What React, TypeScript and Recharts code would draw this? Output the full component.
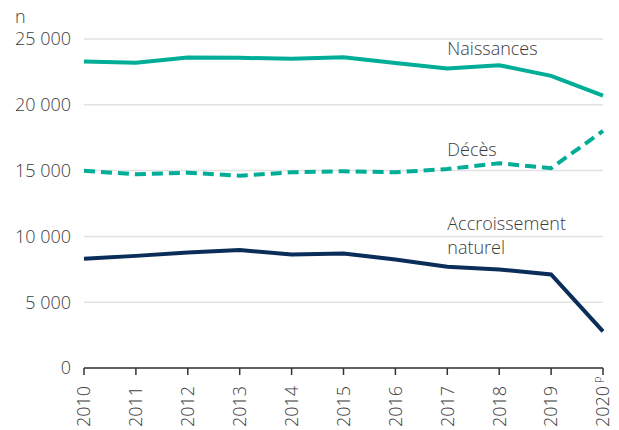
import React from 'react';
import { LineChart, Line, XAxis, YAxis, CartesianGrid, ReferenceDot } from 'recharts';

const years = ['2010', '2011', '2012', '2013', '2014', '2015', '2016', '2017', '2018', '2019', '2020'];
const naissances = [23290, 23190, 23590, 23570, 23490, 23620, 23170, 22760, 23010, 22200, 20700];
const deces = [14990, 14720, 14840, 14610, 14870, 14950, 14870, 15120, 15560, 15180, 18010];
const accroissement = [8300, 8520, 8780, 8960, 8630, 8700, 8250, 7690, 7490, 7110, 2790];
const yTicks = [0, 5000, 10000, 15000, 20000, 25000];
const provisionalYears = ['2020'];
const unitLabel = 'n';

const annotations = [
  { text: 'Naissances', year: '2017', value: 24250 },
  { text: 'Décès', year: '2017', value: 16620 },
  { text: 'Accroissement', year: '2017', value: 10990 },
  { text: 'naturel', year: '2017', value: 9130 },
];

const data = years.map((y, i) => ({
  year: y,
  naissances: naissances[i],
  deces: deces[i],
  accroissement: accroissement[i],
}));

const FONT = '"Open Sans", sans-serif';
const TEXT = '#3c3c3c';
const TEAL = '#00ad96';
const NAVY = '#0a2d5a';

const fmt = (v: number) => String(v).replace(/\B(?=(\d{3})+(?!\d))/g, ' ');

const XTick = (props: any) => {
  const { x, y, payload } = props;
  const label = payload.value;
  return (
    <g transform={`translate(${x},${y})`}>
      <text transform="rotate(-90)" x={0} y={0} dy="0.35em" textAnchor="end" fontFamily={FONT} fontWeight={300} fontSize={18} fill={TEXT}>
        {label}
      </text>
      {provisionalYears.includes(label) && (
        <text transform="rotate(-90)" x={3} y={-2} textAnchor="start" fontFamily={FONT} fontWeight={300} fontSize={11} fill={TEXT}>
          p
        </text>
      )}
    </g>
  );
};

const annotationLabel = (text: string) => (props: any) => {
  const vb = props.viewBox || {};
  const x = (vb.x ?? 0) + (vb.width ?? 0) / 2;
  const y = (vb.y ?? 0) + (vb.height ?? 0) / 2;
  return (
    <text x={x} y={y} dy="0.35em" textAnchor="start" fontFamily={FONT} fontWeight={300} fontSize={18} fill={TEXT}>
      {text}
    </text>
  );
};

const UnitLabel = (props: any) => {
  const vb = props.viewBox || {};
  return (
    <text x={(vb.x ?? 0) + 15} y={(vb.y ?? 0) - 22} dy="0.35em" textAnchor="start" fontFamily={FONT} fontWeight={300} fontSize={18} fill={TEXT}>
      {unitLabel}
    </text>
  );
};

export default function App() {
  return (
    <div style={{ position: 'absolute', left: 0, top: 0, width: 619, height: 430, background: '#fff' }}>
      <LineChart width={619} height={430} data={data} margin={{ top: 39, right: 16, left: 0, bottom: 0 }}>
        <CartesianGrid vertical={false} stroke="#e2e2e2" strokeWidth={1.5} />
        <XAxis
          dataKey="year"
          height={62}
          interval={0}
          axisLine={{ stroke: '#333', strokeWidth: 1.5 }}
          tickLine={{ stroke: '#333', strokeWidth: 1.5 }}
          tickSize={7}
          tickMargin={11}
          tick={<XTick />}
        />
        <YAxis
          width={84}
          domain={[0, 25000]}
          ticks={yTicks}
          axisLine={false}
          tickLine={false}
          tickMargin={7}
          tickFormatter={fmt}
          tick={{ fontFamily: FONT, fontWeight: 300, fontSize: 18, fill: TEXT }}
          label={<UnitLabel />}
        />
        <Line type="linear" dataKey="naissances" stroke={TEAL} strokeWidth={4} dot={false} isAnimationActive={false} />
        <Line type="linear" dataKey="deces" stroke={TEAL} strokeWidth={4} strokeDasharray="11 6" dot={false} isAnimationActive={false} />
        <Line type="linear" dataKey="accroissement" stroke={NAVY} strokeWidth={4} dot={false} isAnimationActive={false} />
        {annotations.map((a) => (
          <ReferenceDot
            key={a.text}
            x={a.year}
            y={a.value}
            r={0.01}
            fill="none"
            stroke="none"
            label={annotationLabel(a.text)}
          />
        ))}
      </LineChart>
    </div>
  );
}
